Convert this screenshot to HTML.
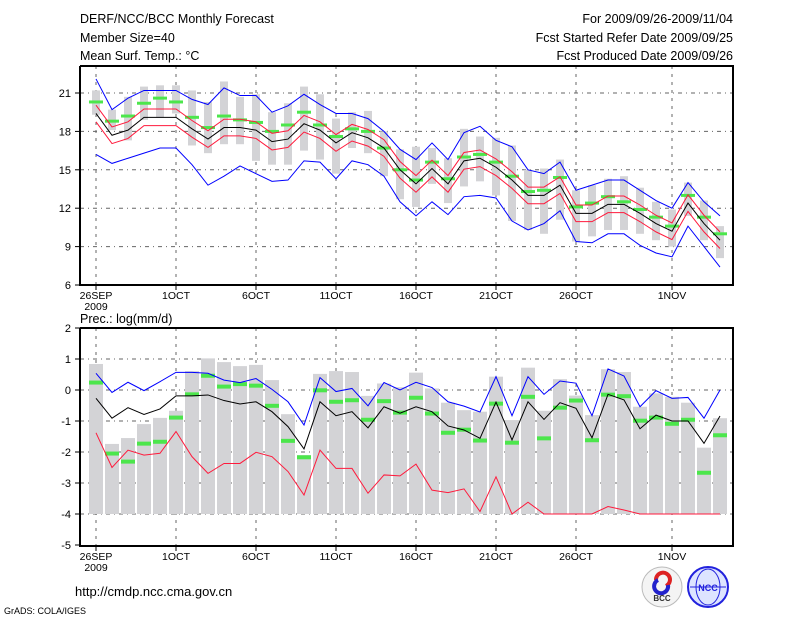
<!DOCTYPE html>
<html><head><meta charset="utf-8"><style>
body{margin:0;background:#fff;width:800px;height:618px;overflow:hidden}
svg{display:block;font-family:"Liberation Sans",sans-serif}
</style></head><body>
<svg id="chart" width="800" height="618">
<g id="hdr" font-size="12.5" fill="#000">
<text x="80" y="23">DERF/NCC/BCC Monthly Forecast</text>
<text x="80" y="42">Member Size=40</text>
<text x="80" y="60">Mean Surf. Temp.: °C</text>
<text x="733" y="23" text-anchor="end">For 2009/09/26-2009/11/04</text>
<text x="733" y="42" text-anchor="end">Fcst Started Refer Date 2009/09/25</text>
<text x="733" y="60" text-anchor="end">Fcst Produced Date 2009/09/26</text>
</g>
<text x="80" y="323" font-size="12.5">Prec.: log(mm/d)</text>
<text x="75" y="596" font-size="13">http://cmdp.ncc.cma.gov.cn</text>
<text x="4" y="614" font-size="9">GrADS: COLA/IGES</text>
<g>
<circle cx="662" cy="587" r="20" fill="#f4f4f4" stroke="#bbb"/>
<path d="M656 580a7 7 0 1 1 10 6" stroke="#d22" stroke-width="4" fill="none"/>
<path d="M668 585a7 7 0 1 1-10-5" stroke="#22c" stroke-width="4" fill="none"/>
<text x="662" y="601" font-size="8" text-anchor="middle" font-weight="bold" fill="#333">BCC</text>
</g>
<g>
<circle cx="708" cy="587" r="20" fill="#dde4ff" stroke="#22d" stroke-width="2"/>
<ellipse cx="708" cy="587" rx="12" ry="18" fill="none" stroke="#22d"/>
<line x1="690" y1="587" x2="726" y2="587" stroke="#22d"/>
<text x="708" y="591" font-size="9" text-anchor="middle" font-weight="bold" fill="#22d">NCC</text>
</g>
</svg>
<script>
// Temperature panel data (°C), day 0 = 26 SEP
const tMean=[19.4,17.7,18.1,19.1,19.1,19.1,18.2,17.4,18.3,18.3,18.1,17.2,17.4,18.6,18.1,17.1,17.9,17.5,16.7,15.0,13.9,15.1,13.9,15.7,15.9,15.2,14.2,13.0,13.0,13.8,11.6,11.6,12.3,12.3,11.6,10.8,10.2,12.4,10.8,9.5];
const tMax=[22.1,19.7,20.6,21.2,21.2,21.2,20.5,20.1,21.4,20.8,20.8,19.5,20.0,20.9,20.1,19.4,19.4,19.0,18.0,16.6,15.8,17.1,15.8,17.9,18.4,17.3,16.8,15.0,14.7,15.6,13.4,13.8,14.2,14.2,13.4,12.6,12.0,14.0,12.5,11.4];
const tMin=[16.2,15.5,15.9,16.3,16.7,16.7,15.4,13.8,14.5,15.3,14.7,14.1,14.2,15.7,15.6,14.3,15.7,15.4,14.5,12.5,11.4,12.5,11.5,12.9,13.0,12.8,11.0,10.3,10.8,11.8,9.4,9.3,10.0,10.0,9.1,8.5,8.2,10.6,9.0,7.4];
const tMed=[20.3,18.8,19.2,20.2,20.6,20.3,19.1,18.3,19.2,18.9,18.7,18.0,18.5,19.5,18.5,17.6,18.2,18.0,16.7,15.0,14.2,15.6,14.3,16.0,16.2,15.6,14.5,13.3,13.4,14.4,12.1,12.4,12.9,12.5,11.9,11.3,10.6,13.0,11.3,10.0];
const tBarTop=[21.2,19.7,20.7,21.5,21.6,21.6,21.2,20.3,21.9,20.7,20.9,19.5,20.2,21.5,20.9,19.0,19.5,19.6,18.0,16.6,16.8,16.7,15.9,18.2,17.6,17.5,16.9,15.0,15.1,15.8,13.4,13.8,14.3,14.5,13.6,12.5,11.9,14.0,12.6,10.6];
const tBarBot=[19.3,18.1,17.3,18.9,19.1,19.4,16.9,16.3,17.0,17.0,15.7,15.4,15.4,16.5,15.8,14.7,16.7,16.3,14.5,12.7,12.1,13.9,12.4,13.7,14.1,13.0,11.0,10.3,10.0,11.1,9.4,9.8,10.3,10.3,10.0,9.5,9.0,11.4,9.5,8.1];
const tTicks=[6,9,12,15,18,21];
// Precipitation panel data (log mm/d)
const pMean=[-0.27,-0.91,-0.57,-0.79,-0.61,-0.19,-0.19,-0.16,-0.34,-0.45,-0.38,-0.70,-1.18,-1.90,-0.38,-0.83,-0.70,-1.22,-0.54,-0.75,-0.54,-0.70,-1.16,-1.29,-1.56,-0.39,-1.61,-0.38,-0.95,-0.41,-0.59,-1.54,-0.14,-0.32,-1.25,-0.81,-1.00,-1.00,-1.72,-0.84];
const pMax=[0.54,-0.08,0.25,-0.02,0.27,0.57,0.57,0.54,0.32,0.24,0.37,0.02,-0.38,-1.13,0.40,-0.05,0.05,-0.51,0.24,0.0,0.25,0.08,-0.38,-0.52,-0.71,0.43,-0.83,0.43,-0.14,0.29,0.22,-0.83,0.68,0.45,-0.54,-0.02,-0.27,-0.24,-0.91,0.0];
const pMin=[-1.38,-2.50,-1.94,-2.10,-2.04,-1.34,-2.15,-2.69,-2.37,-2.37,-2.01,-2.15,-2.63,-3.39,-1.94,-2.53,-2.53,-3.33,-2.74,-2.77,-2.39,-3.23,-3.31,-3.19,-3.92,-2.80,-4,-3.62,-4,-4,-4,-4,-3.76,-3.87,-4,-4,-4,-4,-4,-4];
const pMed=[0.24,-2.05,-2.31,-1.73,-1.67,-0.89,-0.14,0.46,0.11,0.19,0.14,-0.51,-1.64,-2.17,-0.01,-0.38,-0.33,-0.96,-0.36,-0.73,-0.25,-0.76,-1.38,-1.28,-1.63,-0.44,-1.70,-0.22,-1.56,-0.57,-0.34,-1.62,-0.15,-0.20,-0.99,-0.89,-1.09,-0.96,-2.67,-1.46];
const pBarTop=[0.84,-1.74,-1.55,-1.10,-0.90,-0.67,0.61,1.02,0.90,0.77,0.81,0.32,-0.78,-2.10,0.52,0.61,0.58,-0.19,0.21,0.09,0.56,0.05,-0.41,-0.65,-0.70,0.43,-0.97,0.72,-0.67,0.35,-0.18,-0.81,0.67,0.58,-0.54,-0.11,-0.22,-0.41,-1.86,-0.91];
const pFloor=-4;
const pTicks=[-5,-4,-3,-2,-1,0,1,2];
const dateLabels=["26SEP","1OCT","6OCT","11OCT","16OCT","21OCT","26OCT","1NOV"];
const dateDays=[0,5,10,15,20,25,30,36];

const NS="http://www.w3.org/2000/svg", svg=document.getElementById('chart');
function mk(t,a,p){const e=document.createElementNS(NS,t);for(const k in a)e.setAttribute(k,a[k]);(p||svg).appendChild(e);return e;}
const X0=80,X1=733;
function xDay(i){return 96+16*i;}
function yT(v){return 285-(v-6)*12.8;}
function yP(v){return 390-v*31;}

function panel(top,bot,yf,ticks,name){
  const g=mk('g',{});
  
  
  ticks.forEach(t=>{const y=yf(t);
    if(y>top+1&&y<bot-1){const l=mk('line',{x1:X0,x2:X1,y1:y,y2:y,stroke:'#666','stroke-dasharray':'4,4,1,4'},g);}
    mk('line',{x1:X0-5,x2:X0,y1:y,y2:y,stroke:'#000'},g);
    const tx=mk('text',{x:X0-9,y:y+4,'font-size':11,'text-anchor':'end'},g);tx.textContent=t;
    
    
  });
  dateDays.forEach((d,k)=>{const x=xDay(d);
    const l=mk('line',{x1:x,x2:x,y1:top,y2:bot,stroke:'#666','stroke-dasharray':'3,5'},g);
    
    
    mk('line',{x1:x,x2:x,y1:bot,y2:bot+5,stroke:'#000'},g);
    const tx=mk('text',{x:x,y:bot+14,'font-size':10.5,'text-anchor':'middle'},g);tx.textContent=dateLabels[k];
    
    
  });
  const yr=mk('text',{x:96,y:bot+25,'font-size':10.5,'text-anchor':'middle'},g);yr.textContent='2009';
  
  
  return g;
}
function line(arr,yf,color,name,g){
  const p=mk('polyline',{points:arr.map((v,i)=>xDay(i)+','+yf(v)).join(' '),fill:'none',stroke:color,'stroke-width':1},g);
  
  
}
// Temperature panel
const gT=panel(66,285,yT,tTicks,'temperature-panel');
tBarTop.forEach((v,i)=>{const r=mk('rect',{x:xDay(i)-4,y:yT(v),width:8,height:yT(tBarBot[i])-yT(v),fill:'#d3d3d6'},gT);
  
  });
tMed.forEach((v,i)=>{const r=mk('rect',{x:xDay(i)-7,y:yT(v)-1.5,width:14,height:3,fill:'#4ce64c'},gT);
  
  });
line(tMax,yT,'#0000ff','temp-max-line',gT);
line(tMin,yT,'#0000ff','temp-min-line',gT);
line(tMean.map(v=>v+0.65),yT,'#ff1a3c','temp-upper-line',gT);
line(tMean.map(v=>v-0.65),yT,'#ff1a3c','temp-lower-line',gT);
line(tMean,yT,'#000','temp-mean-line',gT);
mk('path',{d:`M${X0} 66V285H${X1}V66H${X0}`,fill:'none',stroke:'#000','stroke-width':2},gT);
// Precip panel
const gP=panel(328,546,yP,pTicks,'precip-panel');
pBarTop.forEach((v,i)=>{const r=mk('rect',{x:xDay(i)-7,y:yP(v),width:14,height:yP(pFloor)-yP(v),fill:'#d3d3d6'},gP);
  
  });
pMed.forEach((v,i)=>{const r=mk('rect',{x:xDay(i)-7,y:yP(v)-2,width:14,height:4,fill:'#4ce64c'},gP);
  
  });
line(pMax,yP,'#0000ff','precip-max-line',gP);
line(pMin,yP,'#ff1a3c','precip-min-line',gP);
line(pMean,yP,'#000','precip-mean-line',gP);
mk('path',{d:`M${X0} 328V546H${X1}V328H${X0}`,fill:'none',stroke:'#000','stroke-width':2},gP);
</script>
</body></html>
